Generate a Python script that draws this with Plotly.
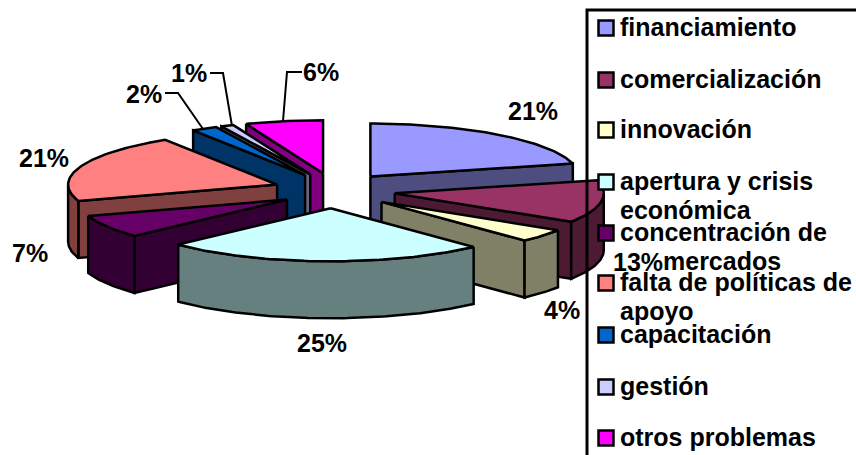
import numpy as np
import plotly.graph_objects as go

categories = ["financiamiento", "comercialización", "innovación", "apertura y crisis<br>económica",
              "concentración de<br>mercados", "falta de políticas de<br>apoyo", "capacitación", "gestión",
              "otros problemas"]
values = [21, 13, 4, 25, 7, 21, 2, 1, 6]
top_colors = ["#9999FF", "#993366", "#FFFFCC", "#CCFFFF", "#660066", "#FF8080", "#0066CC", "#CCCCFF", "#FF00FF"]
side_colors = ["#4D4D80", "#4D1A33", "#808066", "#668080", "#330033", "#804040", "#003366", "#666680", "#800080"]

# projection of the pie into the page
CX, CY = 334.5, 190.6
RX, RY = 209, 53
EX, EY = 61, 17.7
DEPTH = 57
paint_order = [8, 7, 6, 0, 5, 1, 4, 2, 3]
nudge_x = {0: -1.5, 3: -2, 4: 5}

label_pos = [(533, 111), (638, 262), (562, 310), (322, 343), (30, 253), (44, 158), (144, 94), (189, 73), (321, 72)]
leaders = {6: [(165, 93), (178, 93), (203, 129)],
           7: [(210, 73), (223, 73), (232, 126)],
           8: [(302, 72), (287, 72), (283, 121)]}
legend_y = [28, 80, 130, 182, 233, 283, 335, 387, 438]
line_indent = {"mercados": 43}

BOLD = dict(family="Liberation Sans", size=25, color="black", weight=700)

total = sum(values)
edges = np.concatenate([[0], np.cumsum(values)]) / total * 2 * np.pi


def arc(ax, ay, t0, t1):
    n = max(2, int(np.degrees(t1 - t0)) + 2)
    t = np.linspace(t0, t1, n)
    return ax + RX * np.sin(t), ay - RY * np.cos(t)


def add_poly(fig, xs, ys, color):
    xs, ys = list(xs), list(ys)
    fig.add_trace(go.Scatter(x=xs + xs[:1], y=ys + ys[:1], mode="lines", fill="toself",
                             fillcolor=color, line=dict(color="black", width=2.5),
                             hoverinfo="skip", showlegend=False))


fig = go.Figure()
for i in paint_order:
    t0, t1 = edges[i], edges[i + 1]
    mid = (t0 + t1) / 2
    ax, ay = CX + EX * np.sin(mid) + nudge_x.get(i, 0), CY - EY * np.cos(mid)
    if np.pi < t0 < 2 * np.pi:
        ex, ey = ax + RX * np.sin(t0), ay - RY * np.cos(t0)
        add_poly(fig, [ax, ex, ex, ax], [ay, ey, ey + DEPTH, ay + DEPTH], side_colors[i])
    if 0 < t1 < np.pi:
        ex, ey = ax + RX * np.sin(t1), ay - RY * np.cos(t1)
        add_poly(fig, [ax, ex, ex, ax], [ay, ey, ey + DEPTH, ay + DEPTH], side_colors[i])
    lo, hi = max(t0, np.pi / 2), min(t1, 3 * np.pi / 2)
    if lo < hi:
        rx, ry = arc(ax, ay, lo, hi)
        add_poly(fig, np.r_[rx, rx[::-1]], np.r_[ry, ry[::-1] + DEPTH], side_colors[i])
    rx, ry = arc(ax, ay, t0, t1)
    add_poly(fig, np.r_[ax, rx], np.r_[ay, ry], top_colors[i])

fig.add_trace(go.Scatter(x=[606] * len(categories), y=legend_y, mode="markers",
                         marker=dict(symbol="square", size=15, color=top_colors,
                                     line=dict(color="black", width=2.5)),
                         hoverinfo="skip", showlegend=False))

annotations = []
for v, (x, y) in zip(values, label_pos):
    annotations.append(dict(x=x, y=y, text=f"{v}%", showarrow=False, font=BOLD,
                            xanchor="center", yanchor="middle"))
for name, y in zip(categories, legend_y):
    for k, line in enumerate(name.split("<br>")):
        annotations.append(dict(x=618 + line_indent.get(line, 0), y=y - 1 + k * 29, text=line,
                                showarrow=False, font=BOLD, xanchor="left", yanchor="middle"))

shapes = [dict(type="path", layer="above", line=dict(color="black", width=3),
               path="M 587 455 L 587 10 L 856 10")]
for pts in leaders.values():
    shapes.append(dict(type="path", layer="above", line=dict(color="black", width=2),
                       path="M " + " L ".join(f"{x} {y}" for x, y in pts)))

fig.update_layout(
    width=856, height=455, margin=dict(l=0, r=0, t=0, b=0),
    paper_bgcolor="white", plot_bgcolor="white", showlegend=False,
    xaxis=dict(range=[0, 856], visible=False, fixedrange=True),
    yaxis=dict(range=[455, 0], visible=False, fixedrange=True),
    annotations=annotations, shapes=shapes,
)
fig.write_html("out.html", config={"displayModeBar": False},
               post_script="document.body.style.margin='0';document.body.style.overflow='hidden';")
